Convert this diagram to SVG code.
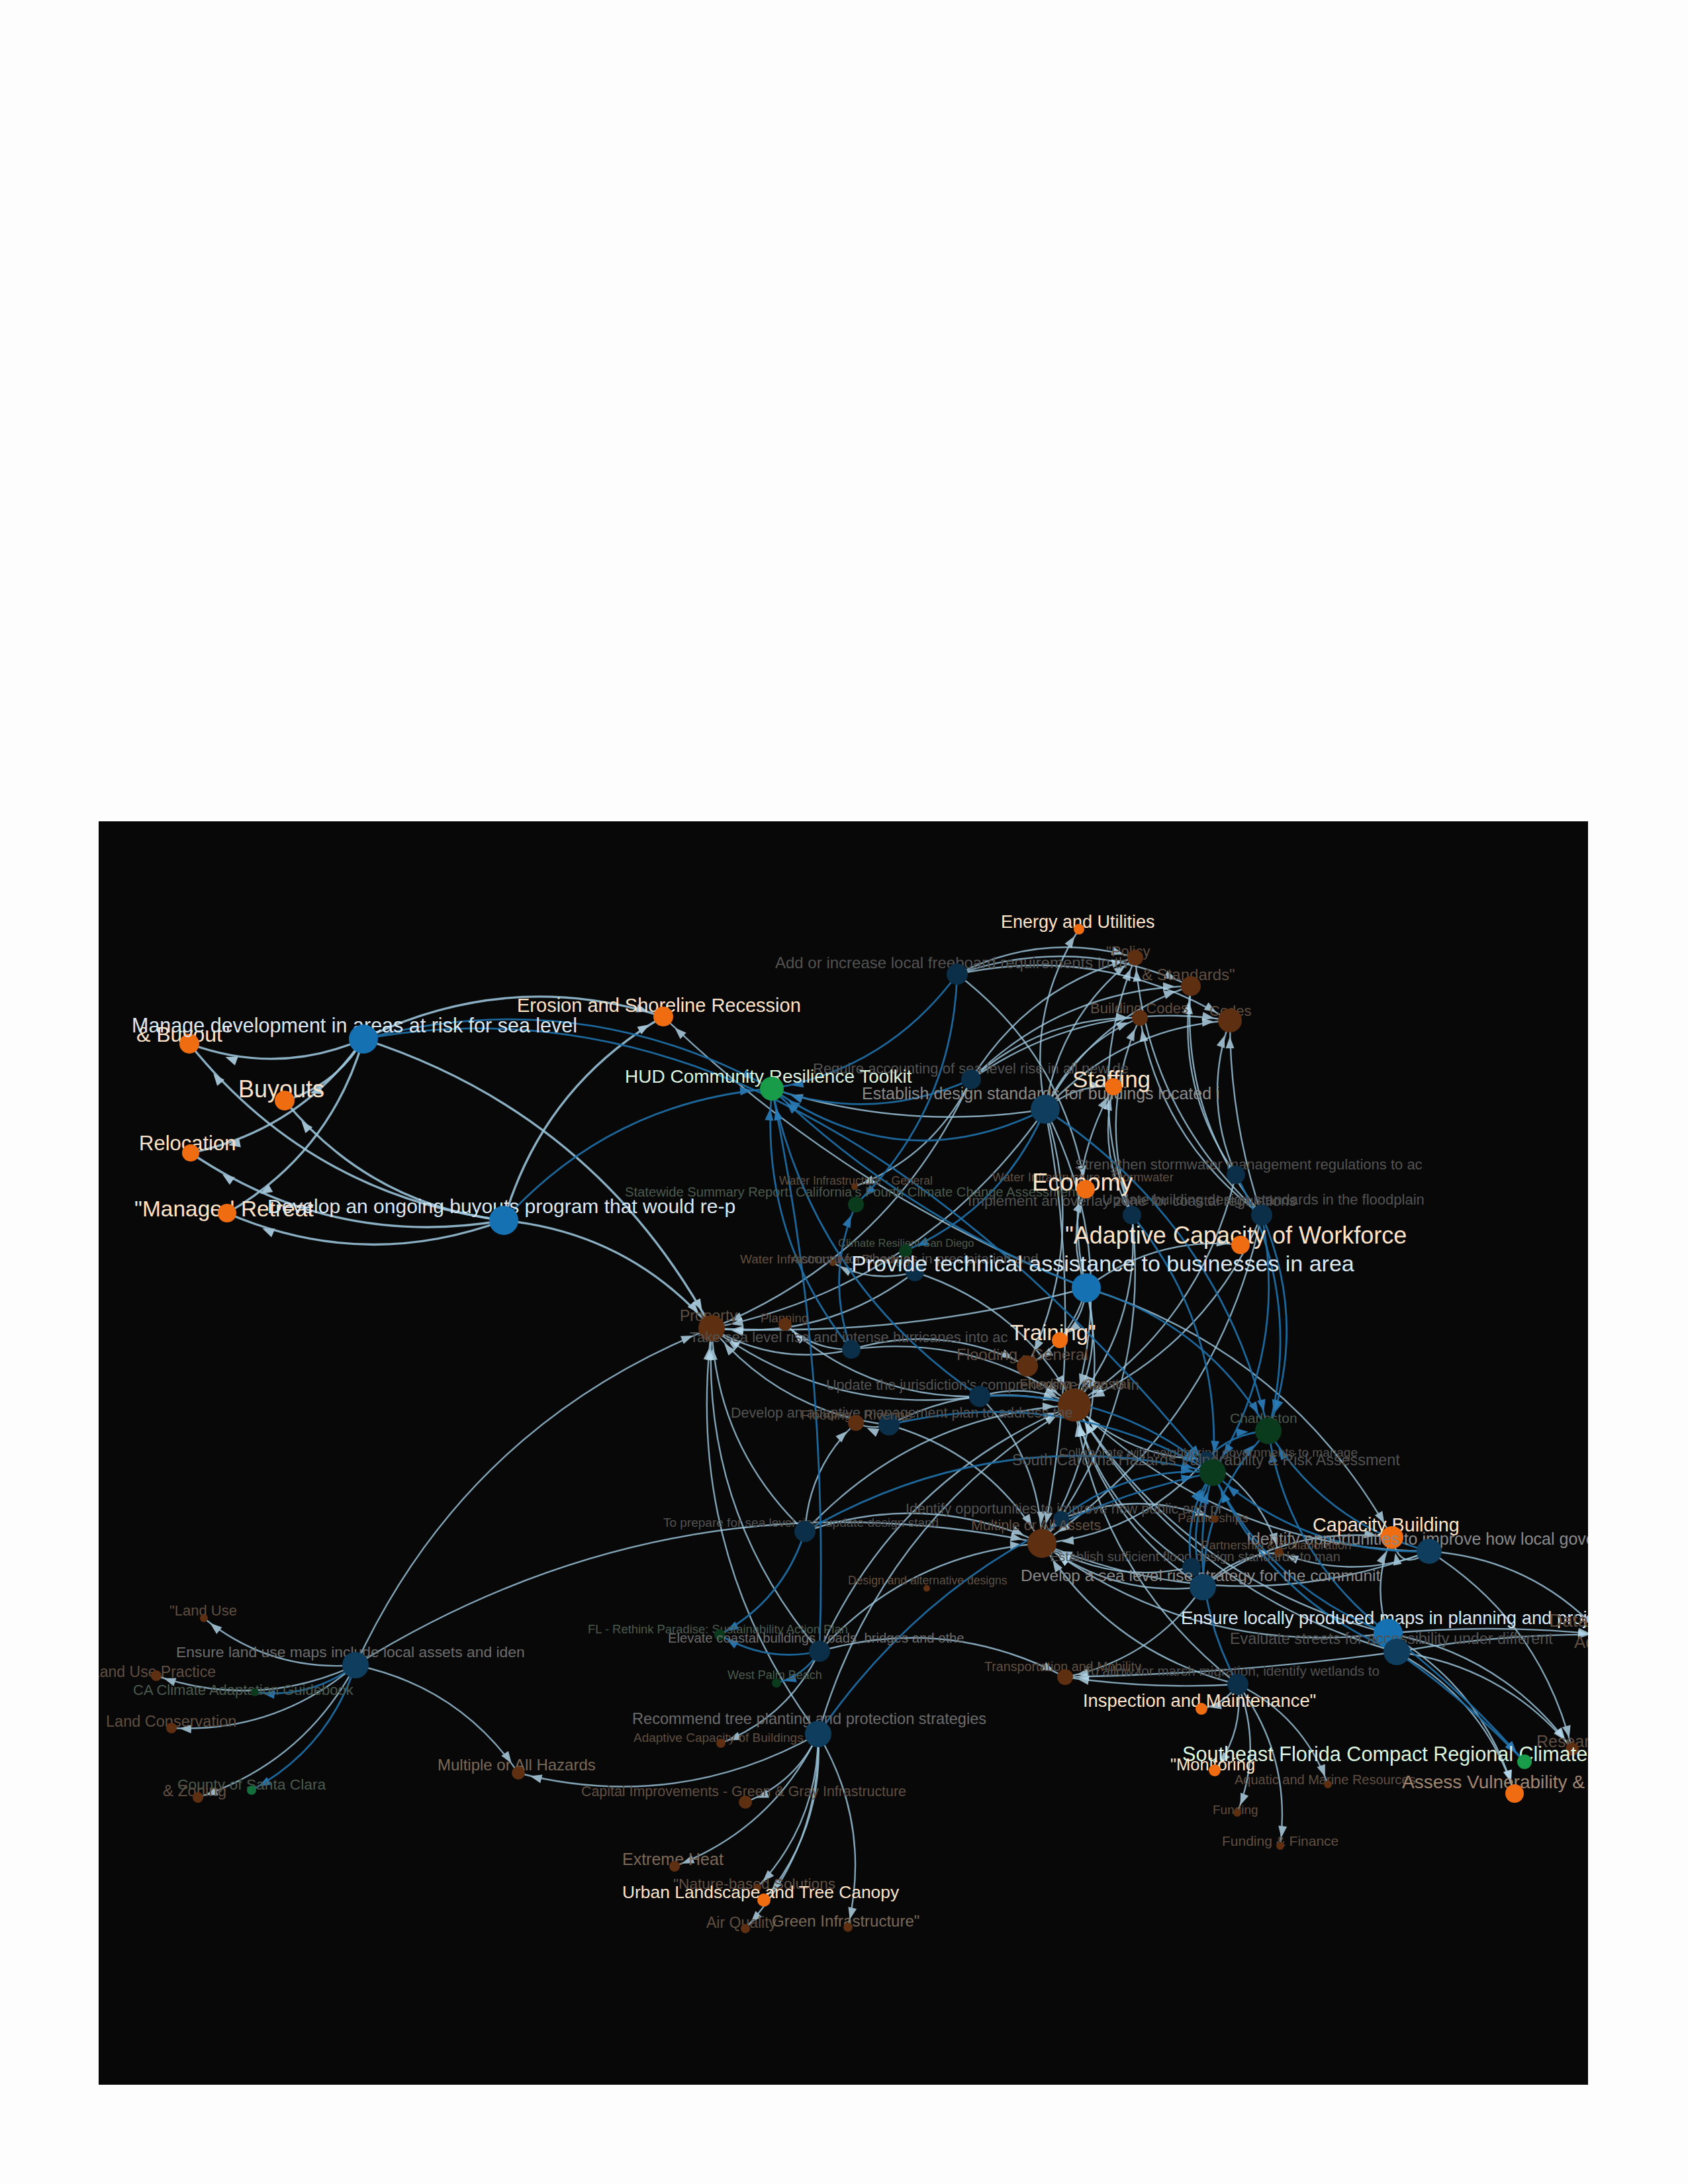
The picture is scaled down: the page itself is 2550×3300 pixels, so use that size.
<svg xmlns="http://www.w3.org/2000/svg" width="2550" height="3300" viewBox="0 0 2550 3300">
<defs>
<style>
text{font-family:"Liberation Sans",Arial,Helvetica,sans-serif}
.e{fill:none;stroke:#9cc6dc;stroke-width:2.4;opacity:.82}
.w{fill:none;stroke:#9cc6dc;stroke-width:3.4;opacity:.88}
.d{fill:none;stroke:#1e6ea6;stroke-width:2.8;opacity:.92}
.ah{fill:#b5d9ec}
.dh{fill:#2a7cb8}
.a12{marker-end:url(#L12)}.a18{marker-end:url(#L18)}.a24{marker-end:url(#L24)}.a30{marker-end:url(#L30)}.a40{marker-end:url(#L40)}.a58{marker-end:url(#L58)}
.b12{marker-end:url(#D12)}.b18{marker-end:url(#D18)}.b30{marker-end:url(#D30)}
.cob{fill:#f06c10}.cod{fill:#5e2f10}.cbb{fill:#1671b2}.cbm{fill:#0e3d5e}.cbd{fill:#0b2f48}.cgb{fill:#189c49}.cgd{fill:#0b3b1d}.cgm{fill:#13703a}
.lo{fill:#fde3c8}.lb{fill:#dbe8f3}.lg{fill:#dcf3df}.lm{fill:#8a8a8a}.lm2{fill:#6c6c6c}.ld{fill:#525252}.ldg{fill:#4b5a4e}.ldb{fill:#5f4e41}.ldb2{fill:#7a6858}.lav{fill:#a08670}
</style>
<clipPath id="cp"><rect x="149" y="1241" width="2250" height="1909"/></clipPath>
<marker id="L12" viewBox="-120 -20 120 40" markerWidth="120" markerHeight="40" refX="0" refY="0" markerUnits="userSpaceOnUse" orient="auto"><path class="ah" d="M-12 0L-30 -6.5L-30 6.5Z"/></marker>
<marker id="L18" viewBox="-120 -20 120 40" markerWidth="120" markerHeight="40" refX="0" refY="0" markerUnits="userSpaceOnUse" orient="auto"><path class="ah" d="M-18 0L-36 -6.5L-36 6.5Z"/></marker>
<marker id="L24" viewBox="-120 -20 120 40" markerWidth="120" markerHeight="40" refX="0" refY="0" markerUnits="userSpaceOnUse" orient="auto"><path class="ah" d="M-24 0L-42 -6.5L-42 6.5Z"/></marker>
<marker id="L30" viewBox="-120 -20 120 40" markerWidth="120" markerHeight="40" refX="0" refY="0" markerUnits="userSpaceOnUse" orient="auto"><path class="ah" d="M-30 0L-48 -6.5L-48 6.5Z"/></marker>
<marker id="L40" viewBox="-120 -20 120 40" markerWidth="120" markerHeight="40" refX="0" refY="0" markerUnits="userSpaceOnUse" orient="auto"><path class="ah" d="M-40 0L-58 -7L-58 7Z"/></marker>
<marker id="L58" viewBox="-120 -20 120 40" markerWidth="120" markerHeight="40" refX="0" refY="0" markerUnits="userSpaceOnUse" orient="auto"><path class="ah" d="M-58 0L-76 -7L-76 7Z"/></marker>
<marker id="D12" viewBox="-120 -20 120 40" markerWidth="120" markerHeight="40" refX="0" refY="0" markerUnits="userSpaceOnUse" orient="auto"><path class="dh" d="M-12 0L-30 -6.5L-30 6.5Z"/></marker>
<marker id="D18" viewBox="-120 -20 120 40" markerWidth="120" markerHeight="40" refX="0" refY="0" markerUnits="userSpaceOnUse" orient="auto"><path class="dh" d="M-18 0L-36 -6.5L-36 6.5Z"/></marker>
<marker id="D30" viewBox="-120 -20 120 40" markerWidth="120" markerHeight="40" refX="0" refY="0" markerUnits="userSpaceOnUse" orient="auto"><path class="dh" d="M-30 0L-48 -6.5L-48 6.5Z"/></marker>
</defs>
<rect width="2550" height="3300" fill="#fdfdfd"/>
<rect x="149" y="1241" width="2250" height="1909" fill="#080808"/>
<g clip-path="url(#cp)">
<g id="connectors">
<path class="w a58" d="M549 1570Q419 1626 286 1577"/>
<path class="w a40" d="M549 1570Q508 1640 430 1663"/>
<path class="w a58" d="M549 1570Q453 1708 288 1742"/>
<path class="w a58" d="M549 1570Q499 1743 343 1833"/>
<path class="w a24" d="M549 1570Q769 1462 1002 1536"/>
<path class="w a30" d="M549 1570Q899 1683 1075 2007"/>
<path class="w a58" d="M761 1844Q470 1806 286 1577"/>
<path class="w a40" d="M761 1844Q559 1820 430 1663"/>
<path class="w a58" d="M761 1844Q504 1888 288 1742"/>
<path class="w a58" d="M761 1844Q550 1922 343 1833"/>
<path class="w a24" d="M761 1844Q820 1642 1002 1536"/>
<path class="w a30" d="M761 1844Q951 1863 1075 2007"/>
<path class="e a18" d="M1446 1472Q1576 1406 1715 1447"/>
<path class="e a24" d="M1446 1472Q1626 1410 1799 1490"/>
<path class="e a18" d="M1446 1472Q1608 1596 1640 1797"/>
<path class="e a24" d="M1446 1472Q1666 1425 1858 1542"/>
<path class="e a18" d="M1467 1631Q1554 1489 1715 1447"/>
<path class="e a24" d="M1467 1631Q1605 1494 1799 1490"/>
<path class="e a18" d="M1467 1631Q1576 1534 1722 1538"/>
<path class="e a24" d="M1467 1631Q1645 1508 1858 1542"/>
<path class="e a30" d="M1467 1631Q1346 1897 1075 2007"/>
<path class="e a12" d="M1467 1631Q1411 1747 1291 1793"/>
<path class="e a30" d="M1579 1676Q1369 1710 1166 1645"/>
<path class="e a12" d="M1579 1676Q1550 1530 1630 1404"/>
<path class="e a18" d="M1579 1676Q1601 1534 1715 1447"/>
<path class="e a24" d="M1579 1676Q1652 1539 1799 1490"/>
<path class="e a18" d="M1579 1676Q1623 1578 1722 1538"/>
<path class="e a24" d="M1579 1676Q1692 1553 1858 1542"/>
<path class="e a30" d="M1579 1676Q1690 1891 1623 2123"/>
<path class="e a30" d="M1579 1676Q1393 1942 1075 2007"/>
<path class="e a18" d="M1579 1676Q1624 1638 1682 1642"/>
<path class="e a24" d="M1579 1676Q1643 1875 1552 2064"/>
<path class="e a30" d="M1579 1676Q1642 2004 1574 2332"/>
<path class="e a24" d="M1867 1775Q1776 1646 1799 1490"/>
<path class="e a24" d="M1867 1775Q1816 1660 1858 1542"/>
<path class="e a30" d="M1867 1775Q1815 1998 1623 2123"/>
<path class="e a18" d="M1710 1836Q1635 1641 1715 1447"/>
<path class="e a18" d="M1710 1836Q1656 1685 1722 1538"/>
<path class="e a18" d="M1710 1836Q1657 1745 1682 1642"/>
<path class="e a30" d="M1710 1836Q1724 1997 1623 2123"/>
<path class="e a30" d="M1710 1836Q1741 2111 1574 2332"/>
<path class="e a18" d="M1906 1836Q1733 1680 1715 1447"/>
<path class="e a24" d="M1906 1836Q1783 1684 1799 1490"/>
<path class="e a18" d="M1906 1836Q1754 1724 1722 1538"/>
<path class="e a24" d="M1906 1836Q1858 1693 1858 1542"/>
<path class="e a30" d="M1906 1836Q1822 2036 1623 2123"/>
<path class="e a30" d="M1906 1836Q1839 2150 1574 2332"/>
<path class="e a18" d="M1641 1946Q1745 1867 1874 1881"/>
<path class="e a18" d="M1641 1946Q1637 1994 1601 2025"/>
<path class="e a24" d="M1641 1946Q1947 2042 2103 2323"/>
<path class="e a24" d="M1641 1946Q1280 1805 1002 1536"/>
<path class="e a30" d="M1641 1946Q1363 2022 1075 2007"/>
<path class="e a30" d="M1641 1946Q1667 2038 1623 2123"/>
<path class="e a18" d="M1641 1946Q1611 1872 1640 1797"/>
<path class="e a18" d="M1641 1946Q1601 1786 1682 1642"/>
<path class="e a30" d="M1641 1946Q1685 2152 1574 2332"/>
<path class="e a24" d="M1641 1946Q1620 2023 1552 2064"/>
<path class="e a30" d="M1286 2039Q1174 2065 1075 2007"/>
<path class="e a24" d="M1286 2039Q1424 1998 1552 2064"/>
<path class="e a30" d="M1286 2039Q1471 2014 1623 2123"/>
<path class="e a18" d="M1286 2039Q1228 2040 1186 2001"/>
<path class="e a30" d="M1480 2110Q1257 2140 1075 2007"/>
<path class="e a30" d="M1480 2110Q1554 2088 1623 2123"/>
<path class="e a18" d="M1480 2110Q1311 2114 1186 2001"/>
<path class="e a30" d="M1480 2110Q1571 2202 1574 2332"/>
<path class="e a18" d="M1343 2153Q1317 2161 1293 2150"/>
<path class="e a30" d="M1343 2153Q1477 2082 1623 2123"/>
<path class="e a30" d="M1343 2153Q1180 2134 1075 2007"/>
<path class="e a30" d="M1343 2153Q1494 2196 1574 2332"/>
<path class="e a12" d="M1382 1922Q1317 1940 1258 1908"/>
<path class="e a30" d="M1382 1922Q1246 2026 1075 2007"/>
<path class="e a30" d="M1382 1922Q1543 1974 1623 2123"/>
<path class="e a30" d="M1216 2314Q1084 2189 1075 2007"/>
<path class="e a18" d="M1216 2314Q1222 2217 1293 2150"/>
<path class="e a30" d="M1216 2314Q1381 2137 1623 2123"/>
<path class="e a30" d="M1216 2314Q1399 2251 1574 2332"/>
<path class="e a12" d="M1603 2295Q1719 2249 1835 2295"/>
<path class="e a30" d="M1822 2205Q1706 2204 1623 2123"/>
<path class="e a30" d="M1822 2205Q1723 2318 1574 2332"/>
<path class="e a12" d="M1822 2205Q1905 2254 1932 2346"/>
<path class="e a30" d="M1800 2368Q1663 2281 1623 2123"/>
<path class="e a30" d="M1800 2368Q1680 2395 1574 2332"/>
<path class="e a30" d="M1817 2398Q1665 2299 1623 2123"/>
<path class="e a30" d="M1817 2398Q1682 2414 1574 2332"/>
<path class="e a24" d="M1817 2398Q1945 2303 2103 2323"/>
<path class="e a18" d="M1817 2398Q1740 2508 1609 2534"/>
<path class="e a12" d="M1817 2398Q1864 2349 1932 2346"/>
<path class="e a24" d="M2159 2344Q2114 2378 2103 2323"/>
<path class="e a30" d="M2159 2344Q1847 2341 1623 2123"/>
<path class="e a30" d="M2159 2344Q1864 2455 1574 2332"/>
<path class="e a18" d="M2159 2344Q2327 2450 2375 2643"/>
<path class="e a18" d="M2159 2344Q2315 2355 2420 2470"/>
<path class="e a12" d="M2159 2344Q2046 2390 1932 2346"/>
<path class="e a24" d="M2097 2468Q2071 2394 2103 2323"/>
<path class="e a30" d="M2097 2468Q1791 2390 1623 2123"/>
<path class="e a30" d="M2097 2468Q1808 2505 1574 2332"/>
<path class="e a18" d="M2097 2468Q2241 2551 2288 2710"/>
<path class="e a18" d="M2097 2468Q2271 2500 2375 2643"/>
<path class="e a18" d="M2097 2468Q2259 2453 2420 2470"/>
<path class="e a18" d="M2110 2496Q2264 2468 2420 2470"/>
<path class="e a18" d="M2110 2496Q1860 2530 1609 2534"/>
<path class="e a18" d="M2110 2496Q2242 2567 2288 2710"/>
<path class="e a18" d="M2110 2496Q2272 2517 2375 2643"/>
<path class="e a30" d="M2110 2496Q1792 2407 1623 2123"/>
<path class="e a18" d="M1870 2545Q1739 2553 1609 2534"/>
<path class="e a12" d="M1870 2545Q1850 2575 1815 2582"/>
<path class="e a12" d="M1870 2545Q1879 2617 1835 2675"/>
<path class="e a12" d="M1870 2545Q1968 2593 2006 2696"/>
<path class="e a12" d="M1870 2545Q1908 2642 1869 2739"/>
<path class="e a12" d="M1870 2545Q1951 2654 1934 2789"/>
<path class="e a30" d="M1870 2545Q1679 2498 1574 2332"/>
<path class="e a30" d="M1870 2545Q1662 2383 1623 2123"/>
<path class="e a12" d="M537 2516Q408 2526 308 2445"/>
<path class="e a12" d="M537 2516Q390 2584 236 2532"/>
<path class="e a12" d="M537 2516Q417 2619 259 2611"/>
<path class="e a12" d="M537 2516Q458 2664 299 2716"/>
<path class="e a18" d="M537 2516Q693 2548 783 2679"/>
<path class="e a30" d="M537 2516Q704 2154 1075 2007"/>
<path class="e a30" d="M537 2516Q1019 2217 1574 2332"/>
<path class="e a30" d="M1238 2495Q1356 2232 1623 2123"/>
<path class="e a30" d="M1238 2495Q1373 2346 1574 2332"/>
<path class="e a18" d="M1238 2495Q1431 2440 1609 2534"/>
<path class="e a30" d="M1238 2495Q1059 2284 1075 2007"/>
<path class="e a12" d="M1238 2495Q1191 2594 1089 2634"/>
<path class="e a18" d="M1236 2620Q1022 2740 783 2679"/>
<path class="e a18" d="M1236 2620Q1202 2694 1126 2723"/>
<path class="e a12" d="M1236 2620Q1168 2763 1019 2820"/>
<path class="e a12" d="M1236 2620Q1236 2754 1144 2852"/>
<path class="e a18" d="M1236 2620Q1245 2762 1154 2871"/>
<path class="e a12" d="M1236 2620Q1240 2789 1126 2914"/>
<path class="e a12" d="M1236 2620Q1317 2757 1281 2912"/>
<path class="e a30" d="M1236 2620Q1033 2346 1075 2007"/>
<path class="e a30" d="M1236 2620Q1330 2294 1623 2123"/>
<path class="d b30" d="M549 1570Q872 1484 1166 1645"/>
<path class="d b30" d="M549 1570Q1200 1450 1832 2225"/>
<path class="d b30" d="M761 1844Q924 1664 1166 1645"/>
<path class="d b30" d="M1446 1472Q1341 1615 1166 1645"/>
<path class="d b30" d="M1467 1631Q1319 1698 1166 1645"/>
<path class="d b30" d="M1579 1676Q1363 1784 1166 1645"/>
<path class="d b30" d="M1579 1676Q1845 1852 1916 2162"/>
<path class="d b30" d="M1906 1836Q1976 1997 1916 2162"/>
<path class="d b30" d="M1641 1946Q1373 1843 1166 1645"/>
<path class="d b30" d="M1641 1946Q1822 1999 1916 2162"/>
<path class="d b30" d="M1286 2039Q1147 1866 1166 1645"/>
<path class="d b30" d="M1480 2110Q1679 2097 1832 2225"/>
<path class="d b30" d="M1480 2110Q1230 1940 1166 1645"/>
<path class="d b30" d="M1343 2153Q1602 2091 1832 2225"/>
<path class="d b18" d="M1446 1472Q1439 1677 1293 1820"/>
<path class="d b18" d="M1579 1676Q1516 1825 1368 1890"/>
<path class="d b18" d="M1286 2039Q1246 1928 1293 1820"/>
<path class="d b30" d="M1216 2314Q1506 2146 1832 2225"/>
<path class="d b30" d="M1603 2295Q1704 2214 1832 2225"/>
<path class="d b30" d="M1822 2205Q1860 2165 1916 2162"/>
<path class="d b30" d="M1800 2368Q1787 2290 1832 2225"/>
<path class="d b30" d="M1817 2398Q1790 2309 1832 2225"/>
<path class="d b30" d="M2159 2344Q2001 2302 1916 2162"/>
<path class="d b30" d="M2097 2468Q1916 2400 1832 2225"/>
<path class="d b18" d="M2097 2468Q2210 2555 2303 2662"/>
<path class="d b18" d="M2110 2496Q2215 2569 2303 2662"/>
<path class="d b12" d="M537 2516Q469 2567 385 2557"/>
<path class="d b12" d="M537 2516Q496 2642 380 2705"/>
<path class="d b12" d="M1238 2495Q1215 2532 1173 2543"/>
<path class="d b12" d="M1238 2495Q1158 2513 1087 2470"/>
<path class="d b12" d="M1216 2314Q1183 2418 1087 2470"/>
<path class="d b30" d="M1236 2620Q1455 2303 1832 2225"/>
<path class="d b30" d="M1710 1836Q1849 2006 1832 2225"/>
<path class="d b30" d="M1906 1836Q1947 2045 1832 2225"/>
<path class="d b30" d="M1867 1775Q1969 1959 1916 2162"/>
<path class="d b30" d="M1238 2495Q1253 2066 1166 1645"/>
<path class="d b30" d="M2097 2468Q1945 2351 1916 2162"/>
<path class="d b30" d="M2159 2344Q1972 2350 1832 2225"/>
<path class="d b30" d="M2110 2496Q1917 2416 1832 2225"/>
<path class="d b30" d="M1817 2398Q1819 2260 1916 2162"/>
<path class="d b30" d="M1870 2545Q1787 2393 1832 2225"/>
</g>
<g id="nodes">
<g id="n-buyout"><text class="lo" x="206" y="1574" font-size="32">&amp; Buyout"</text><circle class="cob" cx="286" cy="1577" r="15"/></g>
<g id="n-buyouts"><text class="lo" x="360" y="1658" font-size="36">Buyouts</text><circle class="cob" cx="430" cy="1663" r="15"/></g>
<g id="n-relocation"><text class="lo" x="210" y="1738" font-size="31">Relocation</text><circle class="cob" cx="288" cy="1742" r="13"/></g>
<g id="n-managed-retreat"><text class="lo" x="203" y="1838" font-size="33.5">"Managed Retreat</text><circle class="cob" cx="343" cy="1833" r="14"/></g>
<g id="n-manage-dev"><text class="lb" x="199" y="1560" font-size="30.5">Manage development in areas at risk for sea level</text><circle class="cbb" cx="549" cy="1570" r="22"/></g>
<g id="n-develop-buyouts"><text class="lb" x="404" y="1833" font-size="30">Develop an ongoing buyouts program that would re-p</text><circle class="cbb" cx="761" cy="1844" r="22"/></g>
<g id="n-erosion"><text class="lo" x="781" y="1529" font-size="29">Erosion and Shoreline Recession</text><circle class="cob" cx="1002" cy="1536" r="15"/></g>
<g id="n-energy"><text class="lo" x="1512" y="1402" font-size="27">Energy and Utilities</text><circle class="cob" cx="1630" cy="1404" r="8"/></g>
<g id="n-freeboard"><text class="ld" x="1171" y="1463" font-size="24">Add or increase local freeboard requirements in th</text><circle class="cbd" cx="1446" cy="1472" r="16"/></g>
<g id="n-policy"><text class="ldb" x="1671" y="1445" font-size="22">"Policy</text><circle class="cod" cx="1715" cy="1447" r="12"/></g>
<g id="n-standards"><text class="ldb" x="1725" y="1481" font-size="24">&amp; Standards"</text><circle class="cod" cx="1799" cy="1490" r="15"/></g>
<g id="n-building-codes"><text class="ldb" x="1647" y="1531" font-size="22">Building Codes</text><circle class="cod" cx="1722" cy="1538" r="12"/></g>
<g id="n-codes"><text class="ldb" x="1827" y="1535" font-size="22">Codes</text><circle class="cod" cx="1858" cy="1542" r="18"/></g>
<g id="n-require"><text class="ld" x="1228" y="1622" font-size="22">Require accounting of sea level rise in all new de</text><circle class="cbd" cx="1467" cy="1631" r="15"/></g>
<g id="n-hud"><text class="lg" x="944" y="1636" font-size="28">HUD Community Resilience Toolkit</text><circle class="cgb" cx="1166" cy="1645" r="18"/></g>
<g id="n-establish-design"><text class="lm" x="1302" y="1661" font-size="25">Establish design standards for buildings located i</text><circle class="cbm" cx="1579" cy="1676" r="22"/></g>
<g id="n-staffing"><text class="lo" x="1620" y="1643" font-size="35">Staffing</text><circle class="cob" cx="1682" cy="1642" r="13"/></g>
<g id="n-strengthen"><text class="ld" x="1624" y="1767" font-size="22">Strengthen stormwater management regulations to ac</text><circle class="cbd" cx="1867" cy="1775" r="14"/></g>
<g id="n-water-storm"><text class="ldb" x="1499" y="1785" font-size="18.5">Water Infrastructure - Stormwater</text><circle class="cod" cx="1636" cy="1790" r="6"/></g>
<g id="n-statewide"><text class="ldg" x="944" y="1808" font-size="20.2">Statewide Summary Report: California's Fourth Climate Change Assessment</text><circle class="cgd" cx="1293" cy="1820" r="12"/></g>
<g id="n-water-general"><text class="ldb" x="1177" y="1790" font-size="17.5">Water Infrastructure - General</text><circle class="cod" cx="1291" cy="1793" r="5"/></g>
<g id="n-economy"><text class="lo" x="1559" y="1799" font-size="36.5">Economy</text><circle class="cob" cx="1640" cy="1797" r="14"/></g>
<g id="n-overlay"><text class="ld" x="1462" y="1822" font-size="22.5">Implement an overlay zone for coastal regulations</text><circle class="cbd" cx="1710" cy="1836" r="14"/></g>
<g id="n-update-building"><text class="ld" x="1665" y="1820" font-size="22">Update building design standards in the floodplain</text><circle class="cbd" cx="1906" cy="1836" r="16"/></g>
<g id="n-workforce"><text class="lo" x="1609" y="1879" font-size="36">"Adaptive Capacity of Workforce</text><circle class="cob" cx="1874" cy="1881" r="14"/></g>
<g id="n-san-diego"><text class="ldg" x="1266" y="1884" font-size="16.5">Climate Resilient San Diego</text><circle class="cgd" cx="1368" cy="1890" r="10"/></g>
<g id="n-water-flooding"><text class="ldb" x="1118" y="1909" font-size="19">Water Infrastructure - Flooding</text><circle class="cod" cx="1258" cy="1908" r="5"/></g>
<g id="n-precip"><text class="ld" x="1195" y="1909" font-size="21">Account for changes in precipitation and</text><circle class="cbd" cx="1382" cy="1922" r="14"/></g>
<g id="n-provide"><text class="lb" x="1286" y="1921" font-size="34">Provide technical assistance to businesses in area</text><circle class="cbb" cx="1641" cy="1946" r="22"/></g>
<g id="n-training"><text class="lo" x="1526" y="2025" font-size="33">Training"</text><circle class="cob" cx="1601" cy="2025" r="12"/></g>
<g id="n-property"><text class="ldb" x="1027" y="1996" font-size="23">Property</text><circle class="cod" cx="1075" cy="2007" r="20"/></g>
<g id="n-planning"><text class="ldb" x="1149" y="1998" font-size="18.5">Planning</text><circle class="cod" cx="1186" cy="2001" r="10"/></g>
<g id="n-take-sea"><text class="ld" x="1042" y="2028" font-size="22">Take sea level rise and intense hurricanes into ac</text><circle class="cbd" cx="1286" cy="2039" r="14"/></g>
<g id="n-flood-general"><text class="ldb" x="1445" y="2055" font-size="24">Flooding - General</text><circle class="cod" cx="1552" cy="2064" r="16"/></g>
<g id="n-update-juris"><text class="ld" x="1248" y="2100" font-size="21.5">Update the jurisdiction's comprehensive plan to in</text><circle class="cbd" cx="1480" cy="2110" r="16"/></g>
<g id="n-flood-coastal"><text class="ldb" x="1540" y="2098" font-size="20.5">Flooding - Coastal</text><circle class="cod" cx="1623" cy="2123" r="25"/></g>
<g id="n-adaptive-plan"><text class="ld" x="1104" y="2142" font-size="21.5">Develop an adaptive management plan to address the</text><circle class="cbd" cx="1343" cy="2153" r="16"/></g>
<g id="n-flood-riverine"><text class="ldb" x="1210" y="2145" font-size="20">Flooding - Riverine</text><circle class="cod" cx="1293" cy="2150" r="12"/></g>
<g id="n-charleston"><text class="ldg" x="1858" y="2150" font-size="21">Charleston</text><circle class="cgd" cx="1916" cy="2162" r="20"/></g>
<g id="n-collaborate"><text class="ld" x="1600" y="2201" font-size="19">Collaborate with neighboring governments to manage</text><circle class="cbd" cx="1822" cy="2205" r="12"/></g>
<g id="n-south-carolina"><text class="ld" x="1529" y="2214" font-size="23.3">South Carolina Hazards Vulnerability &amp; Risk Assessment</text><circle class="cgd" cx="1832" cy="2225" r="20"/></g>
<g id="n-to-prepare"><text class="ld" x="1002" y="2307" font-size="19">To prepare for sea level rise, update design stand</text><circle class="cbd" cx="1216" cy="2314" r="16"/></g>
<g id="n-identify-public"><text class="ld" x="1368" y="2287" font-size="21.5">Identify opportunities to improve how public and pr</text><circle class="cbd" cx="1603" cy="2295" r="12"/></g>
<g id="n-partnerships"><text class="ldb" x="1779" y="2300" font-size="19">Partnerships</text><circle class="cod" cx="1835" cy="2295" r="6"/></g>
<g id="n-multiple-assets"><text class="ldb" x="1467" y="2312" font-size="21.4">Multiple or All Assets</text><circle class="cod" cx="1574" cy="2332" r="22"/></g>
<g id="n-capacity"><text class="lo" x="1983" y="2314" font-size="28.7">Capacity Building</text><circle class="cob" cx="2103" cy="2323" r="17"/></g>
<g id="n-identify-local"><text class="lm" x="1883" y="2334" font-size="25">Identify opportunities to improve how local govern</text><circle class="cbm" cx="2159" cy="2344" r="19"/></g>
<g id="n-partnership-collab"><text class="ldb" x="1814" y="2341" font-size="18.6">Partnership &amp; Collaboration</text><circle class="cod" cx="1932" cy="2346" r="7"/></g>
<g id="n-establish-sufficient"><text class="ld" x="1586" y="2359" font-size="20">Establish sufficient flood design standards to man</text><circle class="cbd" cx="1800" cy="2368" r="14"/></g>
<g id="n-slr-strategy"><text class="lm" x="1542" y="2389" font-size="24.5">Develop a sea level rise strategy for the communit</text><circle class="cbm" cx="1817" cy="2398" r="20"/></g>
<g id="n-design-alt"><text class="ldb" x="1281" y="2394" font-size="17.6">Design and alternative designs</text><circle class="cod" cx="1400" cy="2400" r="5"/></g>
<g id="n-ensure-locally"><text class="lb" x="1784" y="2454" font-size="27.4">Ensure locally produced maps in planning and proje</text><circle class="cbb" cx="2097" cy="2468" r="22"/></g>
<g id="n-data"><text class="ldb" x="2340" y="2458" font-size="28">Data</text><circle class="cod" cx="2420" cy="2470" r="12"/></g>
<g id="n-adaptation"><text class="ldb" x="2378" y="2490" font-size="26">Adaptation Planning</text></g>
<g id="n-evaluate"><text class="ld" x="1858" y="2484" font-size="23.3">Evaluate streets for accessibility under different</text><circle class="cbm" cx="2110" cy="2496" r="20"/></g>
<g id="n-transport"><text class="ldb" x="1487" y="2525" font-size="19.7">Transportation and Mobility</text><circle class="cod" cx="1609" cy="2534" r="12"/></g>
<g id="n-marsh"><text class="ld" x="1638" y="2532" font-size="20.7">To allow for marsh migration, identify wetlands to</text><circle class="cbd" cx="1870" cy="2545" r="16"/></g>
<g id="n-inspection"><text class="lo" x="1636" y="2579" font-size="27.4">Inspection and Maintenance"</text><circle class="cob" cx="1815" cy="2582" r="9"/></g>
<g id="n-research"><text class="ldb" x="2321" y="2640" font-size="25">Research</text><circle class="cod" cx="2375" cy="2643" r="10"/></g>
<g id="n-se-florida"><text class="lg" x="1786" y="2661" font-size="30.6">Southeast Florida Compact Regional Climate Action Plan</text><circle class="cgb" cx="2303" cy="2662" r="11"/></g>
<g id="n-monitoring"><text class="lo" x="1768" y="2675" font-size="25.5">"Monitoring</text><circle class="cob" cx="1835" cy="2675" r="9"/></g>
<g id="n-aquatic"><text class="ldb" x="1865" y="2696" font-size="20">Aquatic and Marine Resources</text><circle class="cod" cx="2006" cy="2696" r="6"/></g>
<g id="n-assess"><text class="lav" x="2118" y="2702" font-size="28">Assess Vulnerability &amp; Risk</text><circle class="cob" cx="2288" cy="2710" r="14"/></g>
<g id="n-funding"><text class="ldb" x="1832" y="2741" font-size="19">Funding</text><circle class="cod" cx="1869" cy="2739" r="6"/></g>
<g id="n-funding-finance"><text class="ldb" x="1846" y="2789" font-size="21">Funding &amp; Finance</text><circle class="cod" cx="1934" cy="2789" r="6"/></g>
<g id="n-ensure-land"><text class="lm2" x="266" y="2504" font-size="22.9">Ensure land use maps include local assets and iden</text><circle class="cbm" cx="537" cy="2516" r="20"/></g>
<g id="n-land-use"><text class="ldb" x="256" y="2441" font-size="22">"Land Use</text><circle class="cod" cx="308" cy="2445" r="6"/></g>
<g id="n-land-use-practice"><text class="ldb" x="138" y="2534" font-size="23">Land Use Practice</text><circle class="cod" cx="236" cy="2532" r="8"/></g>
<g id="n-ca-guide"><text class="ldg" x="201" y="2561" font-size="22">CA Climate Adaptation Guidebook</text><circle class="cgd" cx="385" cy="2557" r="6"/></g>
<g id="n-land-conservation"><text class="ldb" x="160" y="2609" font-size="23.5">Land Conservation</text><circle class="cod" cx="259" cy="2611" r="8"/></g>
<g id="n-santa-clara"><text class="ldg" x="268" y="2704" font-size="22.8">County of Santa Clara</text><circle class="cgm" cx="380" cy="2705" r="7"/></g>
<g id="n-zoning"><text class="ldb" x="246" y="2714" font-size="24">&amp; Zoning</text><circle class="cod" cx="299" cy="2716" r="8"/></g>
<g id="n-multiple-hazards"><text class="ldb2" x="661" y="2675" font-size="24">Multiple or All Hazards</text><circle class="cod" cx="783" cy="2679" r="10"/></g>
<g id="n-fl-rethink"><text class="ldg" x="888" y="2468" font-size="18.4">FL - Rethink Paradise: Sustainability Action Plan</text><circle class="cgd" cx="1087" cy="2470" r="8"/></g>
<g id="n-elevate"><text class="lm2" x="1009" y="2482" font-size="20.3">Elevate coastal buildings, roads, bridges and othe</text><circle class="cbd" cx="1238" cy="2495" r="16"/></g>
<g id="n-west-palm"><text class="ldg" x="1099" y="2537" font-size="18">West Palm Beach</text><circle class="cgd" cx="1173" cy="2543" r="7"/></g>
<g id="n-recommend"><text class="lm2" x="955" y="2605" font-size="23.6">Recommend tree planting and protection strategies</text><circle class="cbm" cx="1236" cy="2620" r="20"/></g>
<g id="n-adaptive-buildings"><text class="ldb" x="957" y="2632" font-size="19">Adaptive Capacity of Buildings</text><circle class="cod" cx="1089" cy="2634" r="7"/></g>
<g id="n-capital"><text class="ldb" x="878" y="2714" font-size="21.4">Capital Improvements - Green &amp; Gray Infrastructure</text><circle class="cod" cx="1126" cy="2723" r="10"/></g>
<g id="n-extreme-heat"><text class="ldb2" x="940" y="2818" font-size="25">Extreme Heat</text><circle class="cod" cx="1019" cy="2820" r="8"/></g>
<g id="n-nature"><text class="ldb" x="1017" y="2854" font-size="22.7">"Nature-based Solutions</text><circle class="cod" cx="1144" cy="2852" r="6"/></g>
<g id="n-urban"><text class="lo" x="940" y="2868" font-size="26.4">Urban Landscape and Tree Canopy</text><circle class="cob" cx="1154" cy="2871" r="10"/></g>
<g id="n-air"><text class="ldb" x="1067" y="2913" font-size="23">Air Quality</text><circle class="cod" cx="1126" cy="2914" r="7"/></g>
<g id="n-green-infra"><text class="ldb2" x="1166" y="2911" font-size="24">Green Infrastructure"</text><circle class="cod" cx="1281" cy="2912" r="7"/></g>
</g>
</g>
</svg>
